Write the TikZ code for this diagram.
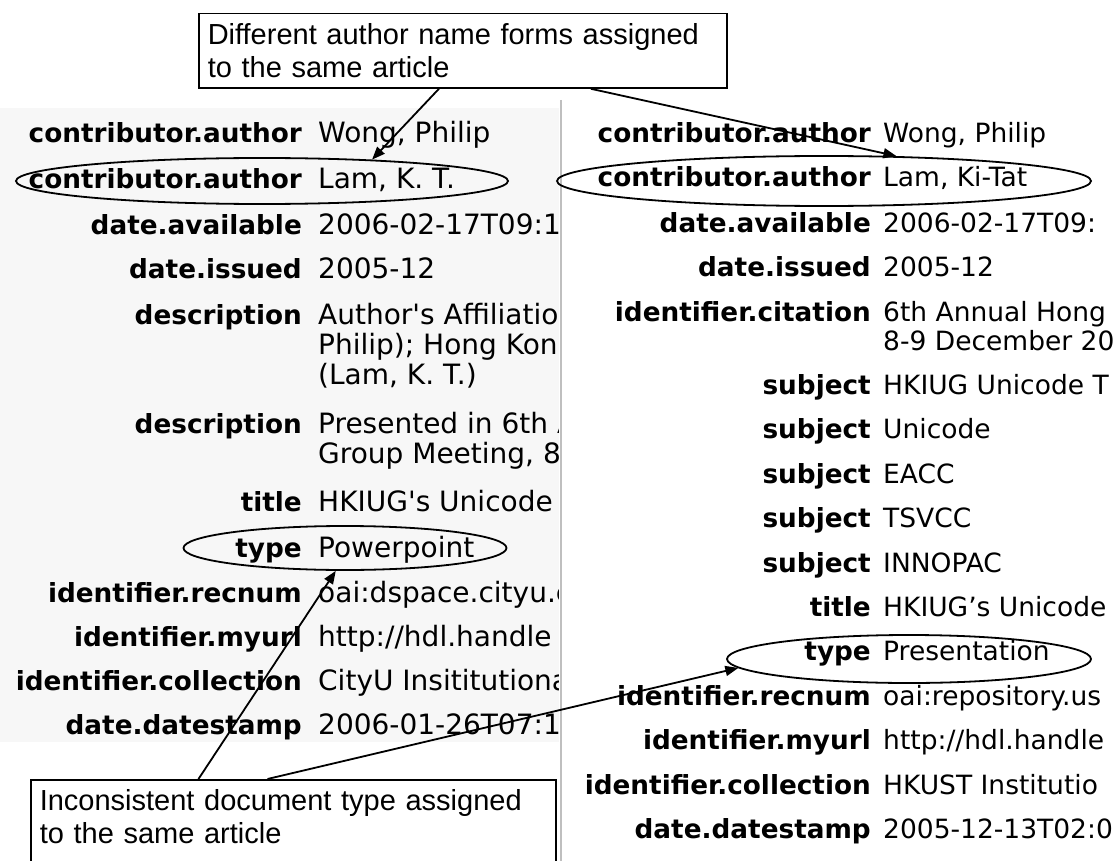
\documentclass[tikz,border=0pt]{standalone}
\usepackage{fontspec}
\setmainfont{DejaVu Sans}
\newfontfamily\arialf{Liberation Sans}
\usetikzlibrary{shapes.geometric,arrows.meta,calc}
\begin{document}
\begin{tikzpicture}[x=1pt,y=-1pt,
  lab/.style={anchor=base east, inner sep=0pt, font=\fontsize{26.3}{30}\selectfont\bfseries},
  lval/.style={anchor=base west, inner sep=0pt, font=\fontsize{28}{30}\selectfont},
  rval/.style={anchor=base west, inner sep=0pt, font=\fontsize{26.5}{30}\selectfont},
  ring/.style={draw, ellipse, line width=1.8pt, inner sep=0pt},
  callout/.style={draw, line width=1.5pt, fill=white, font=\arialf\fontsize{29}{33}\selectfont, align=left, inner xsep=9pt, inner ysep=10pt, anchor=north west},
  arr/.style={-{Triangle[length=13pt,width=10pt]}, line width=1.8pt}]
\useasboundingbox (0,0) rectangle (1113,861);
% panel background and separator
\fill[black!3] (0,108) rectangle (559,742);
\draw[black!25, line width=1.5pt] (561,100) -- (561,861);
% left panel
\begin{scope}
\clip (0,100) rectangle (558,760);
\node[lab] (l1) at (302,143) {contributor.author};
\node[lval] (v1) at (318,143) {Wong, Philip};
\node[lab] (l2) at (302,189) {contributor.author};
\node[lval] (v2) at (318,189) {Lam, K. T.};
\node[lab] (l3) at (302,234) {date.available};
\node[lval] (v3) at (318,234) {2006-02-17T09:1};
\node[lab] (l4) at (302,278) {date.issued};
\node[lval] (v4) at (318,278) {2005-12};
\node[lab] (l5) at (302,324) {description};
\node[lval] (v5a) at (318,324) {Author\textquotesingle s Affiliation};
\node[lval] (v5b) at (318,354) {Philip); Hong Kong};
\node[lval] (v5c) at (318,384) {(Lam, K. T.)};
\node[lab] (l6) at (302,433) {description};
\node[lval] (v6a) at (318,433) {Presented in 6th A};
\node[lval] (v6b) at (318,463) {Group Meeting, 8};
\node[lab] (l7) at (302,511) {title};
\node[lval] (v7) at (318,511) {HKIUG\textquotesingle s Unicode};
\node[lab] (l8) at (302,557) {type};
\node[lval] (v8) at (318,557) {Powerpoint};
\node[lab] (l9) at (302,602) {identifier.recnum};
\node[lval] (v9) at (318,602) {oai:dspace.cityu.e};
\node[lab] (l10) at (302,646) {identifier.myurl};
\node[lval] (v10) at (318,646) {http://hdl.handle};
\node[lab] (l11) at (302,690) {identifier.collection};
\node[lval] (v11) at (318,690) {CityU Insititutiona};
\node[lab] (l12) at (302,734) {date.datestamp};
\node[lval] (v12) at (318,734) {2006-01-26T07:1};
\end{scope}
% right panel
\begin{scope}
\clip (562,100) rectangle (1113,861);
\node[lab] (r1) at (871,143) {contributor.author};
\node[rval] (w1) at (883,143) {Wong, Philip};
\node[lab] (r2) at (871,187) {contributor.author};
\node[rval] (w2) at (883,187) {Lam, Ki-Tat};
\node[lab] (r3) at (871,232) {date.available};
\node[rval] (w3) at (883,232) {2006-02-17T09:};
\node[lab] (r4) at (871,276) {date.issued};
\node[rval] (w4) at (883,276) {2005-12};
\node[lab] (r5) at (871,321) {identifier.citation};
\node[rval] (w5a) at (883,321) {6th Annual Hong};
\node[rval] (w5b) at (883,350) {8-9 December 20};
\node[lab] (r6) at (871,394) {subject};
\node[rval] (w6) at (883,394) {HKIUG Unicode T};
\node[lab] (r7) at (871,438) {subject};
\node[rval] (w7) at (883,438) {Unicode};
\node[lab] (r8) at (871,483) {subject};
\node[rval] (w8) at (883,483) {EACC};
\node[lab] (r9) at (871,527) {subject};
\node[rval] (w9) at (883,527) {TSVCC};
\node[lab] (r10) at (871,572) {subject};
\node[rval] (w10) at (883,572) {INNOPAC};
\node[lab] (r11) at (871,616) {title};
\node[rval] (w11) at (883,616) {HKIUG’s Unicode};
\node[lab] (r12) at (871,660) {type};
\node[rval] (w12) at (883,660) {Presentation};
\node[lab] (r13) at (871,705) {identifier.recnum};
\node[rval] (w13) at (883,705) {oai:repository.us};
\node[lab] (r14) at (871,749) {identifier.myurl};
\node[rval] (w14) at (883,749) {http://hdl.handle};
\node[lab] (r15) at (871,794) {identifier.collection};
\node[rval] (w15) at (883,794) {HKUST Institutio};
\node[lab] (r16) at (871,838) {date.datestamp};
\node[rval] (w16) at (883,838) {2005-12-13T02:0};
\end{scope}
% ellipses
\node[ring, minimum width=492pt, minimum height=46pt] (E1) at (262,181) {};
\node[ring, minimum width=534pt, minimum height=50pt] (E2) at (824,181) {};
\node[ring, minimum width=323pt, minimum height=44pt] (E3) at (345,548) {};
\node[ring, minimum width=364pt, minimum height=48pt] (E4) at (909,659) {};
% callouts
\node[callout, text width=510pt] (topbox) at (198,13)
  {Different author name forms assigned\\to the same article};
\node[callout, text width=507pt, text depth=60pt] (botbox) at (30,779)
  {Inconsistent document type assigned\\to the same article};
% arrows
\draw[arr] ($(topbox.south west)!0.455!(topbox.south east)$) -- (E1.11);
\draw[arr] ($(topbox.south west)!0.742!(topbox.south east)$) -- (E2.19);
\draw[arr] ($(botbox.north west)!0.32!(botbox.north east)$) -- (E3.248);
\draw[arr] ($(botbox.north west)!0.451!(botbox.north east)$) -- (E4.183);
\end{tikzpicture}
\end{document}
